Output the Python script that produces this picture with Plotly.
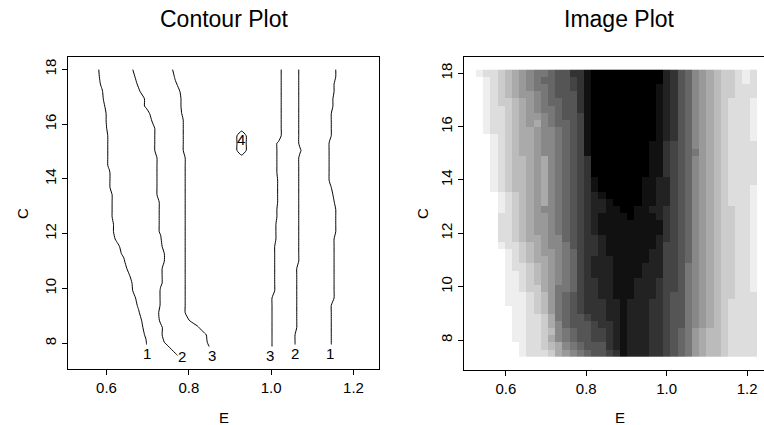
import numpy as np
import plotly.graph_objects as go

# Interpolation grid of the ethanol engine data: E (equivalence ratio) x C (compression ratio)
E_LIMITS = (0.535, 1.232)
C_LIMITS = (7.5, 18.0)
GRID_N = 40

# NOx class of every grid cell, one string per row from C = 18 (top) down to C = 7.5.
# '.' marks cells outside the convex hull of the observations (no estimate).
SHADES = [
    "eddKba9G77655331" + "0000000000" + "235689abKCded.",
    ".eDcba9876655U31" + "0000000000" + "235689abKCded.",
    ".edcba98S7655431" + "000000000" + "1235689abcCddd.",
    ".edCba99G7655531" + "000000000" + "1235689abcCddd.",
    ".edCKba98S6655V1" + "000000000" + "1235689abKddde.",
    ".edDKba98S7655V1" + "000000000" + "1235689abKddde.",
    ".eddKba9987655U1" + "000000000" + "1235689abcddde.",
    ".eddKba9a8S66541" + "000000000" + "1235689abcddde.",
    ".edDcbaa98G76541" + "000000000" + "1235689abcddde.",
    "..edcbaa98G76541" + "000000X00" + "1235689abcddde.",
    "..edcbaa98G76541" + "000000X0" + "11345689abCdddd.",
    "..edcbaa98G76541" + "000000X0" + "113456S9abCdddd.",
    "..edcbba9a87654V" + "00000000" + "11345689abCdddd.",
    "..edcbba9a87654V" + "00000000" + "11345689abCdddd.",
    "..edCbba9a87654V" + "00000000" + "11345689abCdddd.",
    "..edCbba9a87654V1" + "000000" + "112245689abCdddd.",
    "..edCbba9a87654V1" + "000000" + "112245689abcddde.",
    "...eDKba9a87654V21" + "00000" + "112245689abKddde.",
    "...eDKba9a8S654V221" + "0000" + "112245689abKDdde.",
    "...eDKba988S654V2211" + "00" + "1122345689abKCdde.",
    "...dDKba998S654V21111" + "0" + "1112345689abKCdde.",
    "...ddKba998S654V21111" + "11111V45689abKCdde.",
    "...ddKba998S654V21111" + "11111V45689abKCdde.",
    "...ddcbaa98G654V32111" + "11112V45689abcCdde.",
    "...edDKba98G754V32111" + "11112U45689abcCdde.",
    "....eDcba998764V32111" + "11122U45689abcCdde.",
    "....edCbaa98764V22211" + "11122U45689abcCdde.",
    "....edDKba9G764V22211" + "11222U45789abcCdde.",
    "....eedcba9G764V22211" + "11222U45789abcCdde.",
    "....eedCba9G764V32211" + "12223U45789abcCdde.",
    "....eedCKa9S764V32211" + "12223U45789abcCdde.",
    "....eeedKb9S654V32211" + "12223U55789abcCddd.",
    "....eeedcb9S654V33221" + "22233U55789abcdddd.",
    ".....eedCb97654V33221" + "22233U55789abcdddd.",
    ".....eedDKa7655U33221" + "22233U55789abcdddd.",
    ".....eeddKa8655543321" + "22233U55789abcdddd.",
    ".....eeddcbG765544321" + "22233U5679abbcdddd.",
    ".....eeddCa8765544V21" + "22233U5679abbcdddd.",
    "......eddCba876555V21" + "22233U5679abbcdddd.",
    "......eddDKa987655U31" + "22233U5679abbcdddd.",
]
assert len(SHADES) == GRID_N and all(len(r) == GRID_N for r in SHADES)

# NOx value of each main class; its grey (0 = black) follows from the class order
SHADE_CODES = "0123456789abcde"
SHADE_NOX = [3.88, 3.66, 3.44, 3.20, 2.95, 2.68, 2.40, 2.12,
             1.88, 1.67, 1.46, 1.25, 1.04, 0.83, 0.62]
SHADE_GRAY = [0, 17, 34, 51, 68, 85, 102, 119, 136, 153, 170, 187, 204, 221, 238]
# cells sitting close to a contour level (same grey band as a main class)
EXTRA_NOX = {"D": 0.92, "C": 0.97, "K": 1.12, "G": 1.97, "S": 2.03,
             "U": 3.05, "V": 3.10, "X": 4.20}

CONTOUR_START, CONTOUR_END, CONTOUR_STEP = 1, 4, 1
E_TICKS = [0.6, 0.8, 1.0, 1.2]
C_TICKS = [8, 10, 12, 14, 16, 18]

# contour level labels
LABEL_TEXT = ["1", "2", "3", "3", "2", "1", "4"]
LABEL_E = [0.699, 0.784, 0.8565, 0.9964, 1.057, 1.1435, 0.9277]
LABEL_C = [7.61, 7.51, 7.55, 7.57, 7.61, 7.61, 15.45]
LABEL_BG = ["white", "white", "white", "white", "white", "white", "rgba(0,0,0,0)"]

FONT = "Liberation Sans, Arial, Helvetica, sans-serif"
W, H = 764, 425

# ---- surface ---------------------------------------------------------------
nox_of = dict(zip(SHADE_CODES, SHADE_NOX))
nox_of.update(EXTRA_NOX)
E = np.linspace(E_LIMITS[0], E_LIMITS[1], GRID_N)
C = np.linspace(C_LIMITS[0], C_LIMITS[1], GRID_N)
Z = np.array([[nox_of.get(ch, np.nan) for ch in row] for row in SHADES[::-1]])

# stepped grey scale: one flat band per NOx class
ZMIN, ZMAX = 0.5, 4.3
asc_vals = SHADE_NOX[::-1]
asc_gray = SHADE_GRAY[::-1]
edges = [ZMIN] + [(a + b) / 2 for a, b in zip(asc_vals[:-1], asc_vals[1:])] + [ZMAX]
grey_scale = []
for i, g in enumerate(asc_gray):
    col = f"rgb({g},{g},{g})"
    grey_scale.append([(edges[i] - ZMIN) / (ZMAX - ZMIN), col])
    grey_scale.append([(edges[i + 1] - ZMIN) / (ZMAX - ZMIN), col])

fig = go.Figure()
fig.add_trace(go.Contour(
    x=E, y=C, z=Z, xaxis="x", yaxis="y",
    contours=dict(start=CONTOUR_START, end=CONTOUR_END, size=CONTOUR_STEP,
                  coloring="lines", showlabels=False),
    line=dict(width=1, smoothing=0.6),
    colorscale=[[0, "black"], [1, "black"]], showscale=False, hoverinfo="skip",
))
fig.add_trace(go.Heatmap(
    x=E, y=C, z=Z, xaxis="x2", yaxis="y2",
    colorscale=grey_scale, zmin=ZMIN, zmax=ZMAX, showscale=False, hoverinfo="skip",
))

axis_style = dict(
    showgrid=False, zeroline=False, showline=True, linecolor="black", linewidth=1,
    ticks="outside", ticklen=5, tickwidth=1, tickcolor="black",
    tickfont=dict(family=FONT, size=15, color="black"),
)
e_text = [f"{v:.1f}" for v in E_TICKS]
c_text = [str(v) for v in C_TICKS]

fig.update_layout(
    width=W, height=H, margin=dict(l=0, r=0, t=0, b=0),
    paper_bgcolor="white", plot_bgcolor="white", showlegend=False,
    xaxis=dict(domain=[68 / W, 379 / W], range=[0.5065, 1.262], anchor="y",
               tickvals=E_TICKS, ticktext=e_text, mirror=True, **axis_style),
    yaxis=dict(domain=[1 - 369.3 / H, 1 - 57.3 / H], range=[7.05, 18.44], anchor="x",
               tickvals=C_TICKS, ticktext=c_text, tickangle=-90, mirror=True, **axis_style),
    xaxis2=dict(domain=[464.3 / W, 1.0], range=[0.4968, 1.242], anchor="y2",
                tickvals=E_TICKS, ticktext=e_text, mirror=True, **axis_style),
    yaxis2=dict(domain=[1 - 370 / H, 1 - 57.3 / H], range=[6.875, 18.6], anchor="x2",
                tickvals=C_TICKS, ticktext=c_text, tickangle=-90, mirror=False, **axis_style),
)

annotations = []
# panel titles
for text, cx in (("Contour Plot", 223.5), ("Image Plot", 619.5)):
    annotations.append(dict(text=text, x=cx / W, y=1 - 19 / H, xref="paper", yref="paper",
                            xanchor="center", yanchor="middle", showarrow=False,
                            font=dict(family=FONT, size=23, color="black")))
# axis titles
for cx in (223.5, 619.5):
    annotations.append(dict(text="E", x=cx / W, y=1 - 417 / H, xref="paper", yref="paper",
                            xanchor="center", yanchor="middle", showarrow=False,
                            font=dict(family=FONT, size=15, color="black")))
for cx in (22.5, 422.5):
    annotations.append(dict(text="C", x=cx / W, y=1 - 213.5 / H, xref="paper", yref="paper",
                            xanchor="center", yanchor="middle", showarrow=False, textangle=-90,
                            font=dict(family=FONT, size=15, color="black")))
# contour level labels
for t, ex, cy, bg in zip(LABEL_TEXT, LABEL_E, LABEL_C, LABEL_BG):
    annotations.append(dict(text=t, x=ex, y=cy, xref="x", yref="y",
                            xanchor="center", yanchor="middle", showarrow=False,
                            bgcolor=bg, borderpad=0,
                            font=dict(family=FONT, size=15, color="black")))
fig.update_layout(annotations=annotations)

fig.write_html("out.html")
